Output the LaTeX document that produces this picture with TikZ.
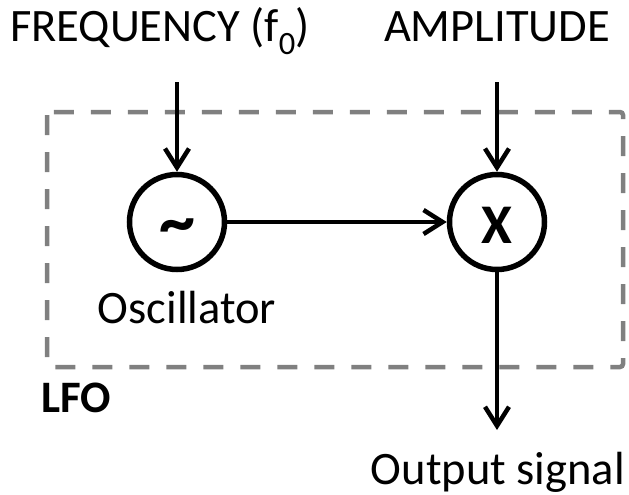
\documentclass[tikz,border=0pt]{standalone}
\usepackage{fontspec}
\setmainfont{Carlito}
\usetikzlibrary{arrows.meta}
\begin{document}
\begin{tikzpicture}[x=1pt,y=-1pt,
  lbl/.style={font=\fontsize{46.5}{50}\selectfont, inner sep=0pt},
  blk/.style={draw=black, line width=5.5pt, circle, inner sep=0pt, minimum size=95pt},
  tip/.style={-{Straight Barb[length=19pt,width=24pt,line width=4.5pt]}},
  conn/.style={line width=4.5pt, tip},
  lfobox/.style={draw=black!50, line width=4.5pt, dash pattern=on 20pt off 17pt, rounded corners=3pt}]
\useasboundingbox (0,0) rectangle (629,495);
\node[lbl, anchor=base west] (freq) at (10,42) {FREQUENCY (f\textsubscript{0})};
\node[lbl, anchor=base east] (amp) at (610,42) {AMPLITUDE};
\draw[lfobox] (47,112) rectangle (623,367);
\node[blk] (osc) at (177,222) {};
\node[lbl, font=\fontsize{72}{76}\bfseries] at (177,232) {\char`~};
\node[blk] (mul) at (497,222) {};
\node[lbl, font=\fontsize{56}{60}\bfseries] at (497,225) {X};
\node[lbl, anchor=base] (osclbl) at (187,323) {Oscillator};
\node[lbl, font=\fontsize{45}{48}\bfseries\selectfont, anchor=base west] (lfo) at (41,412) {LFO};
\node[lbl, anchor=base east] (out) at (625,484) {Output signal};
\coordinate (fin) at (177,82);
\coordinate (ain) at (497,82);
\coordinate (oend) at (497,430);
\draw[conn] (fin) -- (osc.north);
\draw[conn] (ain) -- (mul.north);
\draw[conn] (osc.east) -- (mul.west);
\draw[conn] (mul.south) -- (oend);
\end{tikzpicture}
\end{document}
